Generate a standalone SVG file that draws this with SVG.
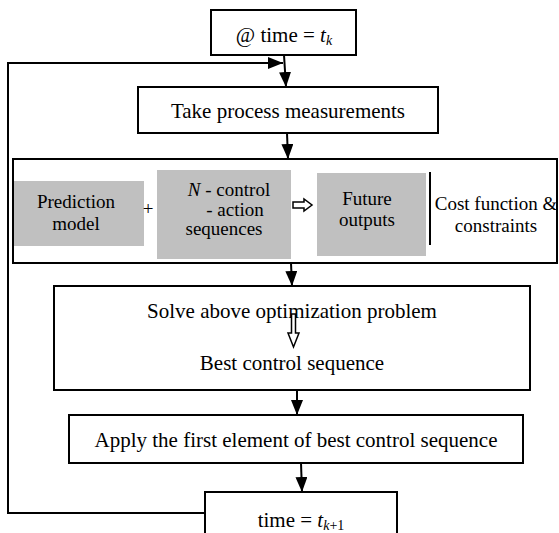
<svg xmlns="http://www.w3.org/2000/svg" width="559" height="533" viewBox="0 0 559 533">
<style>
.box{fill:#fff;stroke:#000;stroke-width:2}
.gray{fill:#c0c0c0;stroke:none}
.t{font-family:'Liberation Serif','DejaVu Serif',serif;font-size:21px;fill:#000;text-anchor:middle}
.s{font-family:'Liberation Serif','DejaVu Serif',serif;font-size:19px;fill:#000;text-anchor:middle}
.i{font-style:italic}
.ln{fill:none;stroke:#000;stroke-width:2}
.hollow{fill:#fff;stroke:#000;stroke-width:1.5}
</style>
<defs>
<marker id="ah" viewBox="0 0 15 12" refX="15" refY="6" markerWidth="7.5" markerHeight="6" orient="auto" markerUnits="strokeWidth">
<path d="M0,0 L15,6 L0,12 Z" fill="#000"/>
</marker>
</defs>
<g id="connectors">
<line class="ln" x1="284" y1="55" x2="286" y2="87" marker-end="url(#ah)"/>
<polyline class="ln" points="205,513 8,513 8,63 283,63" marker-end="url(#ah)"/>
<line class="ln" x1="287" y1="133" x2="288" y2="159" marker-end="url(#ah)"/>
<line class="ln" x1="291" y1="263" x2="292" y2="286" marker-end="url(#ah)"/>
<line class="ln" x1="297" y1="390" x2="297" y2="415" marker-end="url(#ah)"/>
<line class="ln" x1="301" y1="463" x2="302" y2="492" marker-end="url(#ah)"/>
</g>
<g id="n-start">
<rect class="box" x="211" y="10" width="145" height="45"/>
<text class="t" x="284" y="42">@ time = <tspan class="i">t</tspan><tspan class="i" font-size="14" dy="3">k</tspan></text>
</g>
<g id="n-measure">
<rect class="box" x="138" y="87" width="300" height="46"/>
<text class="t" x="288" y="118">Take process measurements</text>
</g>
<g id="n-problem">
<rect class="box" x="13" y="159" width="544" height="104"/>
<g id="n-model">
<rect class="gray" x="14" y="181" width="130" height="65"/>
<text class="s" x="76" y="208">Prediction</text>
<text class="s" x="76" y="230">model</text>
</g>
<text class="s" x="148" y="215" font-size="16">+</text>
<g id="n-sequences">
<rect class="gray" x="157" y="170" width="134" height="89"/>
<text class="s" x="229" y="196"><tspan class="i">N</tspan> - control</text>
<text class="s" x="235" y="216">- action</text>
<text class="s" x="224" y="235">sequences</text>
</g>
<polygon class="hollow" points="293,202 304,202 304,199 312,205 304,211 304,208 293,208"/>
<g id="n-outputs">
<rect class="gray" x="317" y="173" width="109" height="83"/>
<text class="s" x="367" y="205">Future</text>
<text class="s" x="367" y="226">outputs</text>
</g>
<line x1="430" y1="172" x2="430" y2="245" stroke="#000" stroke-width="2"/>
<g id="n-cost">
<text class="s" x="496" y="210">Cost function &amp;</text>
<text class="s" x="496" y="232">constraints</text>
</g>
</g>
<g id="n-solve">
<rect class="box" x="54" y="286" width="476" height="104"/>
<text class="t" x="292" y="318">Solve above optimization problem</text>
<polygon class="hollow" points="291.5,314 295.5,314 295.5,333 299,333 293.5,347 288,333 291.5,333"/>
<text class="t" x="292" y="370">Best control sequence</text>
</g>
<g id="n-apply">
<rect class="box" x="69" y="415" width="454" height="48"/>
<text class="t" x="296" y="447">Apply the first element of best control sequence</text>
</g>
<g id="n-next">
<rect class="box" x="205" y="492" width="192" height="45"/>
<text class="t" x="301" y="527">time = <tspan class="i">t</tspan><tspan font-size="14" dy="3"><tspan class="i">k</tspan>+1</tspan></text>
</g>
</svg>
